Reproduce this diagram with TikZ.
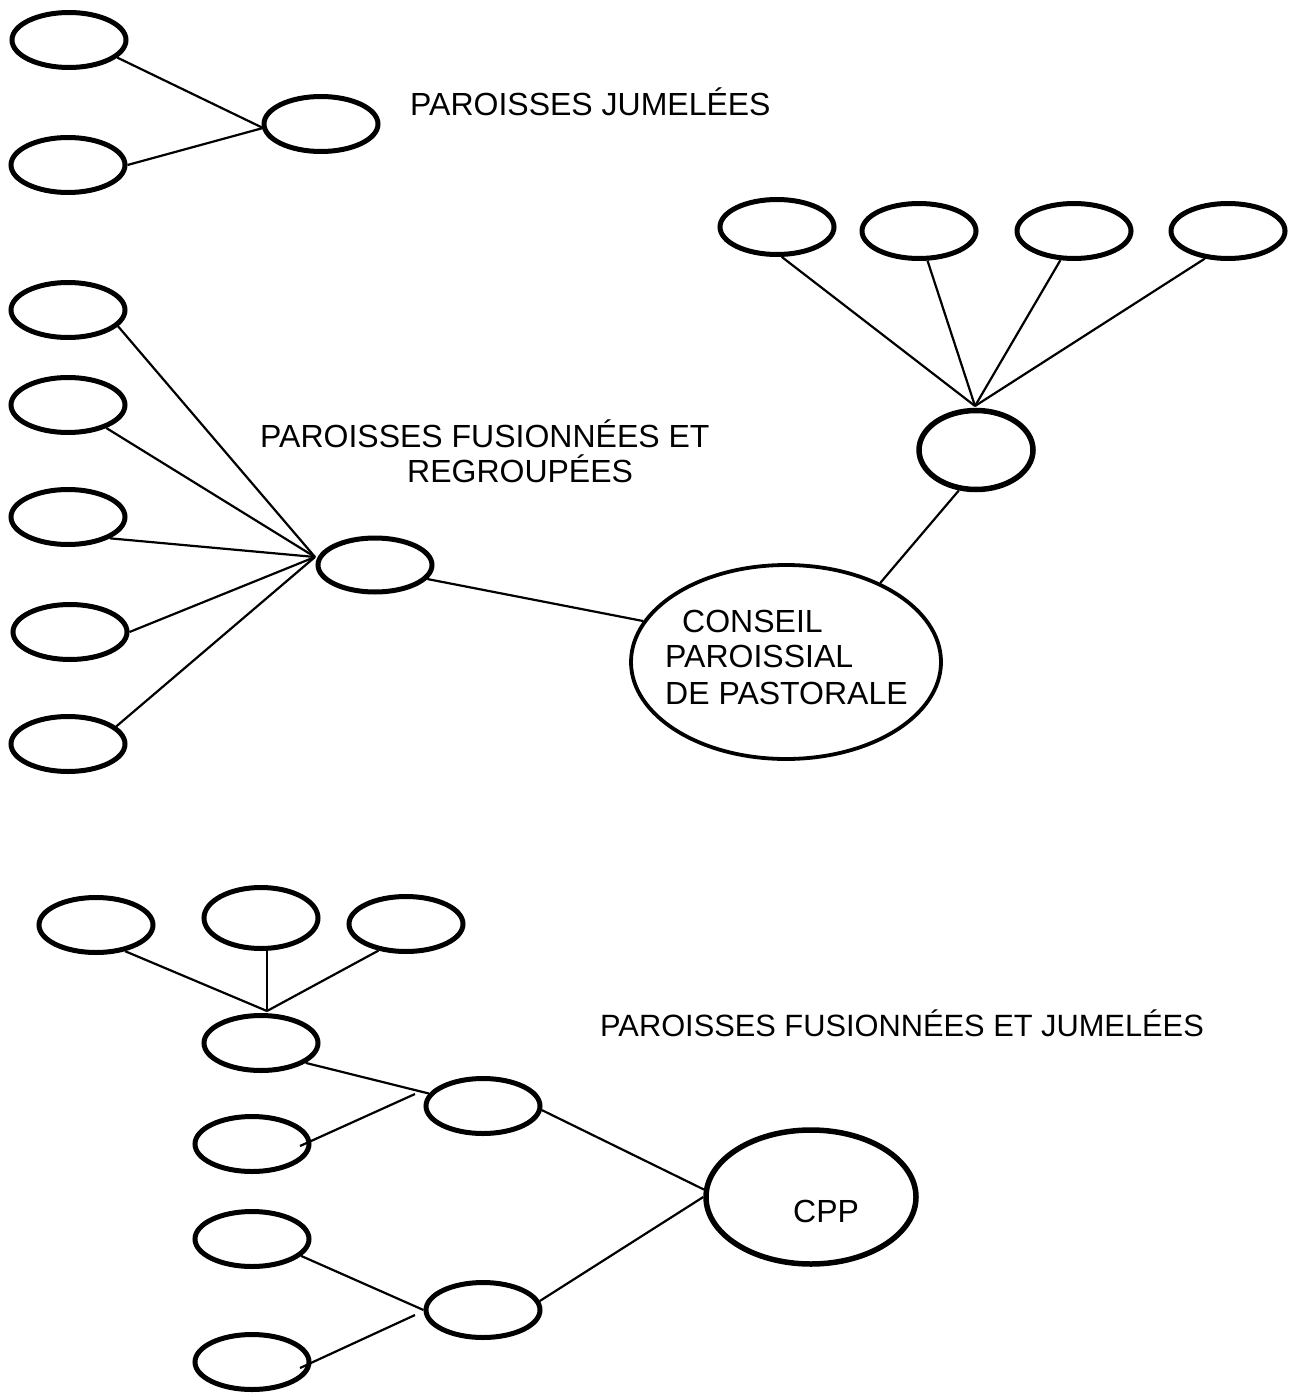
\documentclass[tikz,border=0pt]{standalone}
\usepackage{fontspec}
\setmainfont{Liberation Sans}
\usetikzlibrary{shapes.geometric}
\begin{document}
\begin{tikzpicture}[x=1pt,y=-1pt,
  oval/.style={draw, ellipse, line width=5pt, minimum width=114pt, minimum height=55pt, inner sep=0pt},
  link/.style={line width=2.2pt},
  lbl/.style={anchor=base west, inner sep=0pt, font=\fontsize{32}{36}\selectfont}]
\fill[white] (0,0) rectangle (1294,1396);
\useasboundingbox (0,0) rectangle (1294,1396);

% ---- Paroisses jumelees
\node[oval] (a1) at (69,40) {};
\node[oval] (a2) at (68,165) {};
\node[oval] (a3) at (321,124) {};
\coordinate (ja) at (263,128);
\draw[link] (a1.-20) -- (ja);
\draw[link] (a2.east) -- (ja);
\node[lbl] (t1) at (410,116) {PAROISSES JUMELÉES};

% ---- Paroisses fusionnees et regroupees
\node[oval] (m1) at (68,310) {};
\node[oval] (m2) at (68,405) {};
\node[oval] (m3) at (68,517) {};
\node[oval] (m4) at (70,632) {};
\node[oval] (m5) at (68,744) {};
\node[oval, minimum height=54pt] (m6) at (375,565) {};
\coordinate (jm) at (315,557);
\draw[link] (m1.-18) -- (jm);
\draw[link] (m2.-31) -- (jm);
\draw[link] (m3.-27) -- (jm);
\draw[link] (m4.east) -- (jm);
\draw[link] (m5.20) -- (jm);
\node[lbl] (t2) at (260,447) {PAROISSES FUSIONNÉES ET};
\node[lbl] (t3) at (407,482) {REGROUPÉES};

% ---- Conseil paroissial de pastorale
\node[draw, ellipse, line width=3.8pt, minimum width=310pt, minimum height=194pt, inner sep=0pt] (cp1) at (786,662) {};
\node[lbl] (c1) at (682,632) {CONSEIL};
\node[lbl] (c2) at (665,667) {PAROISSIAL};
\node[lbl] (c3) at (665,704) {DE PASTORALE};
\draw[link] (m6.-15) -- (cp1.164);

% ---- top right group
\node[oval] (r1) at (777,227) {};
\node[oval] (r2) at (919,231) {};
\node[oval] (r3) at (1074,231) {};
\node[oval] (r4) at (1228,231) {};
\node[oval, line width=5.5pt, minimum height=79pt] (r5) at (976,450) {};
\coordinate (jr) at (975,406);
\draw[link] (r1.-81) -- (jr);
\draw[link] (r2.-74) -- (jr);
\draw[link] (r3.-115) -- (jr);
\draw[link] (r4.-130) -- (jr);
\draw[link] (cp1.40) -- (r5.-113);

% ---- Paroisses fusionnees et jumelees
\node[oval] (b1) at (96,925) {};
\node[oval, minimum height=61pt] (b2) at (261,918) {};
\node[oval] (b3) at (406,924) {};
\node[oval] (b4) at (261,1043) {};
\node[oval] (b5) at (483,1106) {};
\node[oval] (b6) at (252,1144) {};
\node[oval] (b7) at (252,1239) {};
\node[oval] (b8) at (483,1310) {};
\node[oval] (b9) at (252,1362) {};
\node[draw, ellipse, line width=5.5pt, minimum width=210pt, minimum height=134pt, inner sep=0pt] (cpp) at (811,1197) {};
\node[lbl] (cpptxt) at (793,1222) {CPP};
\coordinate (jb) at (267,1011);
\draw[link] (b1.-42) -- (jb);
\draw[link] (jb |- b2.south) -- (jb);
\draw[link] (b3.-136) -- (jb);
\draw[link] (b4.-24) -- (b5.167);
\coordinate (b6in) at (300,1146);
\coordinate (jb6) at (415,1094);
\draw[link] (b6in) -- (jb6);
\draw[link] (b7.-19) -- (b8.west);
\coordinate (b9in) at (300,1368);
\coordinate (jb9) at (415,1315);
\draw[link] (b9in) -- (jb9);
\draw[link] (b5.-4) -- (cpp.176);
\draw[link] (b8.9) -- (cpp.180);
\node[lbl, font=\fontsize{30.8}{34}\selectfont] (t4) at (600,1036) {PAROISSES FUSIONNÉES ET JUMELÉES};
\end{tikzpicture}
\end{document}
